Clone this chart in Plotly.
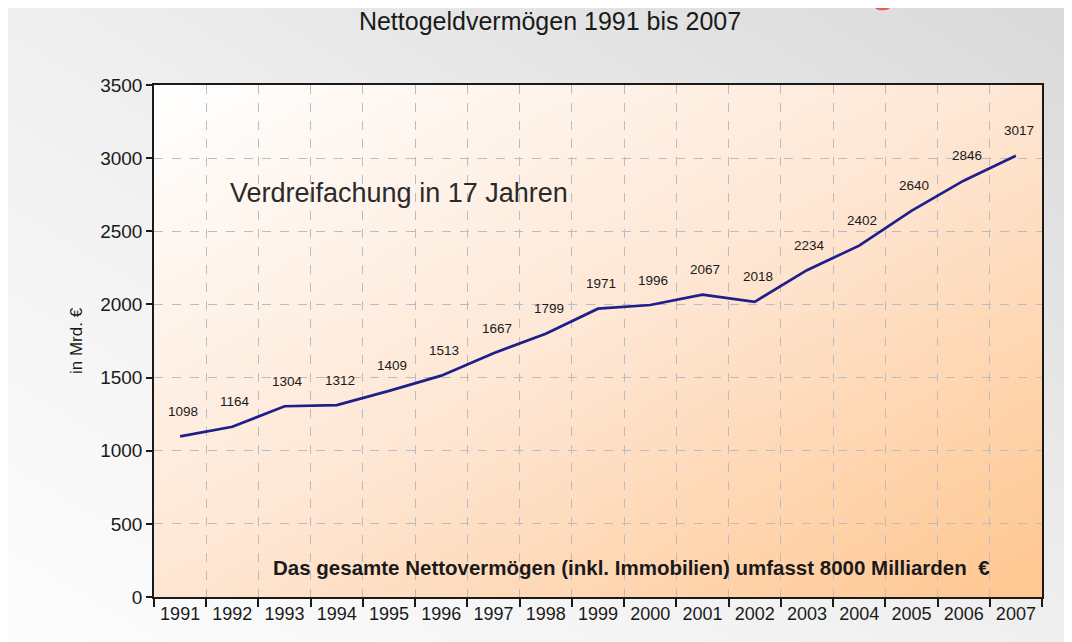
import base64
import plotly.graph_objects as go

years = [str(y) for y in range(1991, 2008)]
values = [1098, 1164, 1304, 1312, 1409, 1513, 1667, 1799, 1971, 1996,
          2067, 2018, 2234, 2402, 2640, 2846, 3017]

W, H = 1072, 642
OFF = 8  # page body margin offset
L, T = 154 - OFF, 85 - OFF
R = W - (1042 - OFF)
B = H - (597 - OFF)
PW, PH = W - L - R, H - T - B


def px_x(px):
    return (px - OFF - L) / PW


def px_y(py):
    return (H - B - (py - OFF)) / PH


def svg_uri(svg):
    return "data:image/svg+xml;base64," + base64.b64encode(svg.encode()).decode()


paper_svg = (
    '<svg xmlns="http://www.w3.org/2000/svg" width="100" height="100" viewBox="0 0 100 100" '
    'preserveAspectRatio="none"><defs><linearGradient id="g" x1="0" y1="1" x2="1" y2="0">'
    '<stop offset="0" stop-color="#fdfdfd"/><stop offset="0.5" stop-color="#efefef"/>'
    '<stop offset="1" stop-color="#d9d9d9"/></linearGradient></defs>'
    '<rect width="100" height="100" fill="url(#g)"/></svg>'
)
plot_svg = (
    '<svg xmlns="http://www.w3.org/2000/svg" width="100" height="100" viewBox="0 0 100 100" '
    'preserveAspectRatio="none"><defs><linearGradient id="g" x1="0" y1="0" x2="1" y2="1">'
    '<stop offset="0" stop-color="#ffffff"/><stop offset="0.5" stop-color="#fee6d3"/>'
    '<stop offset="1" stop-color="#ffc68f"/></linearGradient></defs>'
    '<rect width="100" height="100" fill="url(#g)"/></svg>'
)

fig = go.Figure()
fig.add_trace(go.Scatter(
    x=years, y=values, mode="lines",
    line=dict(color="#1e1e8c", width=2.7),
    hoverinfo="x+y", showlegend=False,
))

for i, v in enumerate(values):
    fig.add_annotation(
        x=i, y=v, text=str(v), showarrow=False, yshift=25, xshift=3,
        font=dict(family="Liberation Sans, Arial", size=13.5, color="#1a1a1a"),
    )

fig.add_annotation(
    xref="paper", yref="paper", x=px_x(228), y=px_y(193), xanchor="left", yanchor="middle",
    text="Verdreifachung in 17 Jahren", showarrow=False,
    font=dict(family="Liberation Sans, Arial", size=27, color="#2a2a2a"),
)
fig.add_annotation(
    xref="paper", yref="paper", x=px_x(631), y=px_y(567), xanchor="center", yanchor="middle",
    text="<b>Das gesamte Nettovermögen (inkl. Immobilien) umfasst 8000 Milliarden  €</b>",
    showarrow=False,
    font=dict(family="Liberation Sans, Arial", size=20.5, color="#1a1a1a"),
)
fig.add_annotation(
    xref="paper", yref="paper", x=px_x(76), y=px_y(341), xanchor="center", yanchor="middle",
    text="in Mrd. €", textangle=-90, showarrow=False,
    font=dict(family="Liberation Sans, Arial", size=17, color="#1a1a1a"),
)

fig.add_layout_image(dict(
    source=svg_uri(paper_svg), xref="paper", yref="paper",
    x=-L / PW, y=1 + T / PH, sizex=W / PW, sizey=H / PH,
    xanchor="left", yanchor="top", sizing="stretch", layer="below",
))
fig.add_layout_image(dict(
    source=svg_uri(plot_svg), xref="paper", yref="paper",
    x=0, y=1, sizex=1, sizey=1,
    xanchor="left", yanchor="top", sizing="stretch", layer="below",
))

# small red mark at top (edge of a cut-off logo)
fig.add_shape(
    type="path", xref="paper", yref="paper",
    path=f"M {px_x(876)} {px_y(7.5)} Q {px_x(882.5)} {px_y(10.5)} {px_x(889)} {px_y(7.5)}",
    line=dict(color="#ee5555", width=2.5),
)

fig.update_layout(
    width=W, height=H,
    margin=dict(l=L, r=R, t=T, b=B),
    paper_bgcolor="white",
    plot_bgcolor="rgba(0,0,0,0)",
    title=dict(
        text="Nettogeldvermögen 1991 bis 2007", x=(550 - OFF) / W, xanchor="center",
        y=1 - (21 - OFF) / H, yanchor="middle",
        font=dict(family="Liberation Sans, Arial", size=25, color="#1a1a1a"),
    ),
    font=dict(family="Liberation Sans, Arial", color="#1a1a1a"),
)
fig.update_xaxes(
    type="category", tickson="boundaries", range=[-0.5, len(years) - 0.5],
    ticks="outside", ticklen=8, tickwidth=1.5, tickcolor="#1a1a1a", tickangle=0,
    showgrid=True, gridcolor="#b8bcc4", griddash="dash", gridwidth=1,
    showline=True, linecolor="#1a1a1a", linewidth=1.5, mirror=True,
    tickfont=dict(size=18, color="#1a1a1a"),
)
fig.update_yaxes(
    range=[0, 3500], dtick=500, ticks="outside", ticklen=6, tickwidth=1.5,
    tickcolor="#1a1a1a",
    showgrid=True, gridcolor="#b8bcc4", griddash="dash", gridwidth=1,
    zeroline=False,
    showline=True, linecolor="#1a1a1a", linewidth=1.5, mirror=True,
    tickfont=dict(size=19, color="#1a1a1a"),
)

fig.write_html("out.html")
